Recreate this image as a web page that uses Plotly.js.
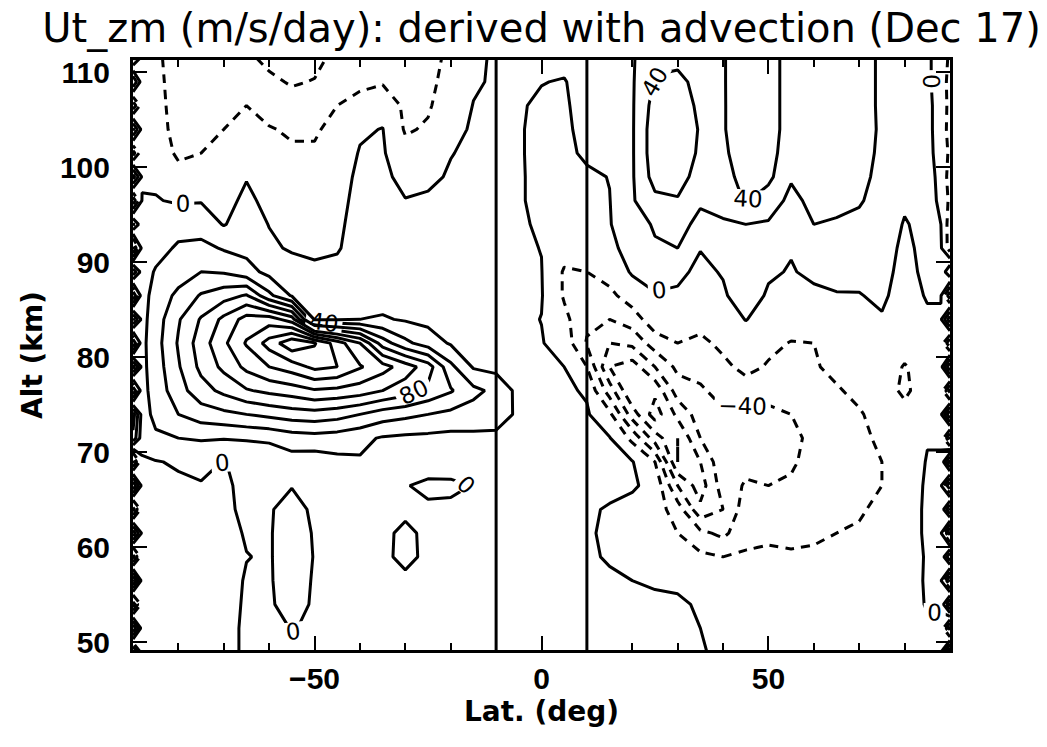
<!DOCTYPE html>
<html><head><meta charset="utf-8">
<script src="https://cdn.plot.ly/plotly-3.0.1.min.js"></script>
<style>html,body{margin:0;padding:0;background:#fff}</style>
</head><body><div id="chart" style="width:1047px;height:747px"></div>
<script>
// Latitude grid (deg) and altitude grid (km)
const lat = [-90,-88,-85,-80,-75,-70,-65,-60,-55,-50,-45,-40,-35,-30,-25,-20,-15,-10,-5,0,5,10,15,20,25,30,35,40,45,50,55,60,65,70,75,80,85,88,90];
const alt = [49,51.5,54,56.5,59,61.5,64,66.5,69,71.5,74,76.5,79,81.5,84,86.5,89,91.5,94,96.5,99,101.5,104,106.5,109,111.5];

// Ut_zm (m/s/day), one profile per latitude (bottom -> top)
const utProfiles = [
 [-70,60,-75,65,-70,55,-70,60,-65,55,70,-60,70,-60,65,-60,55,-65,45,-55,50,-50,45,-55,40,-45],
 [-8,-10,-10,-8,-5,-3,-8,-6,-3,8,12,14,15,15,14,13,10,6,4,1,-2,-5,-7,-9,-11,-13],
 [-8,-10,-10,-8,-5,-3,-8,-6,-1,17,25,28,30,32,30,27,22,12,5,1,-3,-6,-8,-10,-12,-14],
 [-10,-12,-12,-10,-8,-8,-8,-3,2,20,40,52,58,62,58,45,30,23,12,-2,-12,-24,-30,-32,-33,-34],
 [-10,-12,-12,-10,-8,-7,-5,-1,4,22,50,72,85,90,82,62,40,26,10,-1,-12,-20,-26,-30,-32,-34],
 [-6,-6,-6,-5,-4,-4,-3,-2,-0.5,21,55,85,105,116,105,72,38,18,-1,-6,-10,-14,-20,-28,-32,-35],
 [3,3,2,1,-0.3,1,3,3,4,22,60,98,125,142,128,82,28,14,8,4,-1,-6,-12,-20,-30,-36],
 [8,8,1,1,1,1,1,1.5,5,24,65,105,140,168,130,45,14,3,-0.5,-5,-10,-15,-19,-26,-36,-45],
 [3,-1,-3,-5,-6,-6,-4,0.5,12,30,70,110,150,195,110,18,8,-2,-8,-12,-15,-18,-22,-32,-42,-50],
 [5,3,1,1,0.5,1,2,4,10,32,72,118,165,182,18,10,2,-2,-6,-10,-14,-18,-22,-30,-39,-46],
 [6,6,6,6,6,6,7,8,15,30,68,115,160,150,18,12,3,-1,-2,-3,-4,-9,-15,-20,-28,-34],
 [8,8,8,8,8,8,8,10,18,25,60,110,142,120,20,10,6,5,4,3,2,1,-2,-14,-24,-30],
 [8,8,8,6,5,5,6,8,15,18,50,100,128,70,22,12,8,6,5,4,3,2,0.5,-6,-22,-28],
 [8,8,8,5,-6,-5,5,1,12,16,45,90,110,45,18,12,8,6,3,0.5,-4,-14,-22,-24,-26,-28],
 [8,8,8,6,5,5,3,-4,10,15,40,75,90,30,15,10,7,6,4,2,-3,-10,-18,-22,-24,-26],
 [8,8,8,8,8,7,3,-3,8,14,35,62,45,18,12,9,7,6,5,3,1.5,-0.5,-5,-10,-14,-16],
 [8,8,8,8,8,8,6,0.5,8,15,32,45,18,12,10,8,7,6,5,4,3,2.5,2,0.5,-2,-3],
 [8,8,8,8,8,8,8,8,8,16,28,35,14,10,8,7,6,5,5,4,4,4,3,3,2,2],
 [6,6,6,6,6,6,6,6,6,12,17,14,8,5,3,3,2,2,1.5,1,1,1,1,1.5,3,5],
 [8,8,8,8,8,8,8,8,6,6,6,5,3,1,-0.3,1,0.5,-0.3,-1.5,-2.5,-2.5,-3,-3,-2.5,0.5,3],
 [8,8,8,8,8,8,8,8,8,7,6,3,0,-8,-15,-22,-22,-12,-7,-6,-5,-4,-3,-2,-1,5],
 [10,10,10,8,3,2,3,9,9,6,2,-2,-20,-42,-35,-28,-20,-12,-8,-6,-3,3,5,6,8,10],
 [10,10,8,3,-2,-3,-2,6,5,1,-15,-50,-80,-60,-40,-25,-12,-5,-1,-0.5,0.5,8,10,12,14,15],
 [12,12,8,0,-6,-8,-5,2,1,-25,-70,-100,-90,-55,-30,-10,2,8,12,18,18,18,18,18,18,18],
 [10,10,5,-3,-10,-12,-10,-5,-20,-70,-110,-95,-60,-30,-8,-1,5,18,22,35,48,52,52,48,42,35],
 [8,8,4,-5,-14,-20,-30,-60,-100,-100,-75,-50,-35,-20,-8,-2,3,20,25,38,50,55,55,50,44,36],
 [2,0,-3,-8,-16,-35,-75,-90,-80,-60,-50,-42,-35,-25,-12,-5,-3,0.5,16,22,30,36,38,36,35,33],
 [-5,-6,-8,-12,-20,-45,-60,-50,-45,-45,-42,-35,-25,-15,-8,-2,1,8,18,26,32,36,38,38,38,38],
 [-5,-6,-8,-12,-18,-25,-30,-38,-45,-48,-45,-30,-14,-8,0.5,8,12,15,20,42,48,52,55,55,56,56],
 [-4,-5,-7,-10,-16,-24,-32,-40,-48,-50,-45,-32,-22,-15,-6,-2,2,10,18,30,45,48,48,46,45,45],
 [-4,-5,-7,-10,-18,-24,-30,-38,-42,-45,-40,-32,-25,-21,-10,-5,-1,1,10,15,22,28,32,34,35,35],
 [-4,-5,-8,-12,-18,-22,-25,-30,-35,-35,-30,-25,-22,-20,-8,-3,3,12,20,25,28,30,30,30,30,30],
 [-3,-5,-7,-10,-15,-20,-24,-28,-30,-32,-30,-22,-15,-10,-5,-1,5,12,18,25,28,30,30,30,30,30],
 [-3,-4,-6,-8,-12,-18,-22,-25,-26,-25,-22,-15,-10,-6,-3,-0.5,3,8,15,22,25,26,26,25,25,25],
 [-2,-3,-4,-6,-8,-12,-16,-20,-20,-16,-12,-8,-5,-3,-1,2,4,6,8,12,15,17,18,18,18,18],
 [-2,-2,-3,-4,-5,-6,-6,-8,-10,-12,-12,-25,-22,-8,-6,-5,-4,-3,-1,2,5,6,7,7,7,6],
 [-1,-1,0.5,1,1,2,2,2,1,-1,-3,-6,-8,-6,-2,1,3,4,4,4,4,3,3,3,2,2],
 [-1,-1,0.5,1,1,2,2,2,1,-1,-3,-6,-8,-6,-2,1,3,2,0,-2,-3,-4,-5,-5,-5,-5],
 [65,-70,70,-65,60,-70,65,-60,70,-65,60,-70,60,-60,55,-55,40,-30,-30,-25,-30,-25,-30,-28,-30,-25]
];
const markerLats = [-10, 10];
const titleText = 'Ut_zm (m/s/day): derived with advection (Dec 17)';

// build z[alt][lat]
const z = alt.map((a, j) => lat.map((l, i) => utProfiles[i][j]));
const black = [[0,'#000'],[1,'#000']];
function ctr(start, end, dash, labels) {
  return {
    type: 'contour', x: lat, y: alt, z: z,
    autocontour: false,
    contours: {start: start, end: end, size: 40, coloring: 'lines', showlabels: labels,
      labelfont: {family: 'DejaVu Sans', size: 23, color: '#000'}},
    line: {width: 3, dash: dash, smoothing: 0},
    colorscale: black, showscale: false, hoverinfo: 'skip'
  };
}
const dash = '9px,7px';
const data = [
  ctr(20, 300, 'solid', false),   // 20, 60, 100, ...
  ctr(0, 80, 'solid', true),      // 0, 40, 80 (labelled)
  ctr(120, 280, 'solid', false),  // 120, 160, ...
  ctr(-300, -20, dash, false),    // -20, -60, -100, ...
  ctr(-40, -39, dash, true),      // -40 (labelled)
  ctr(-280, -80, dash, false)     // -80, -120, ...
];
const tickFont = {family: 'Liberation Sans', size: 30, color: '#000', weight: 'bold'};
const axTitleFont = {family: 'DejaVu Sans', size: 28, color: '#000', weight: 'bold'};
const layout = {
  width: 1047, height: 747,
  margin: {l: 133, r: 97, t: 60, b: 97},
  paper_bgcolor: '#fff', plot_bgcolor: '#fff',
  showlegend: false,
  title: {text: titleText, x: 0.5, xref: 'paper', xanchor: 'center', y: 0.962, yref: 'container', yanchor: 'middle',
    font: {family: 'DejaVu Sans', size: 40, color: '#000'}},
  xaxis: {range: [-90, 90], tickmode: 'linear', tick0: 0, dtick: 50, ticks: 'inside', ticklen: 14, tickwidth: 2,
    tickcolor: '#000', showline: true, linewidth: 3, linecolor: '#000', mirror: 'ticks', showgrid: false, zeroline: false,
    minor: {tickmode: 'linear', tick0: 0, dtick: 10, ticks: 'inside', ticklen: 7, tickwidth: 2, tickcolor: '#000', showgrid: false},
    tickfont: tickFont, ticklabelstandoff: 0,
    title: {text: 'Lat. (deg)', standoff: 8, font: axTitleFont}},
  yaxis: {range: [49.2, 111.3], tickmode: 'linear', tick0: 0, dtick: 10, ticks: 'inside', ticklen: 14, tickwidth: 2,
    tickcolor: '#000', showline: true, linewidth: 3, linecolor: '#000', mirror: 'ticks', showgrid: false, zeroline: false,
    tickfont: tickFont, ticklabelstandoff: 14,
    title: {text: 'Alt (km)', standoff: 10, font: axTitleFont}},
  shapes: markerLats.map(v => ({type: 'line', xref: 'x', yref: 'paper', x0: v, x1: v, y0: 0, y1: 1,
    line: {color: '#000', width: 3}}))
};
Plotly.newPlot('chart', data, layout, {displayModeBar: false, staticPlot: true});
</script></body></html>
